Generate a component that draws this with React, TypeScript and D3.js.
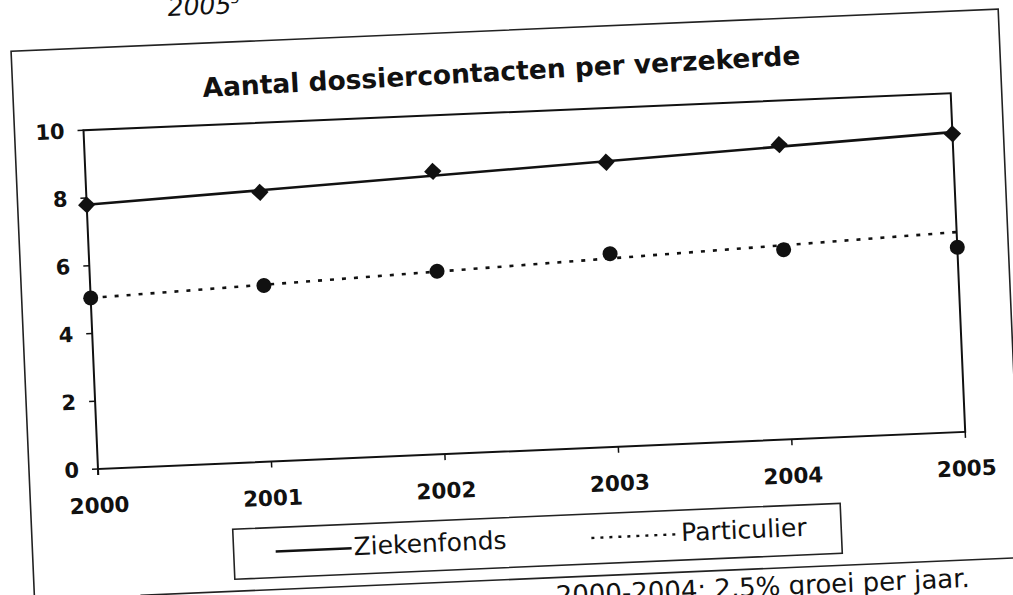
import React from "react";
import * as d3 from "d3";

const years = ["2000", "2001", "2002", "2003", "2004", "2005"];
const ziekenfonds = [7.8, 7.95, 8.35, 8.4, 8.7, 8.8];
const particulier = [5.05, 5.2, 5.4, 5.7, 5.6, 5.45];
// straight reference lines: value at first and last year
const ziekenfondsLine = [7.8, 8.85];
const particulierLine = [5.05, 5.9];
const yTicks = [0, 2, 4, 6, 8, 10];
const seriesNames = ["Ziekenfonds", "Particulier"];
const chartTitle = "Aantal dossiercontacten per verzekerde";
const headerFragment = "2005";
const footnote = "2000-2004: 2,5% groei per jaar.";

const FONT = "'DejaVu Sans', Verdana, sans-serif";

export default function App() {
  const W = 868;
  const H = 339;
  const x = d3.scalePoint<string>().domain(years).range([0, W]);
  const y = d3.scaleLinear().domain([0, 10]).range([0, -H]);
  const line = d3
    .line<[string, number]>()
    .x((d) => x(d[0]) as number)
    .y((d) => y(d[1]));
  const first = years[0];
  const last = years[years.length - 1];
  const zfPath = line([
    [first, ziekenfondsLine[0]],
    [last, ziekenfondsLine[1]],
  ]) as string;
  const ptPath = line([
    [first, particulierLine[0]],
    [last, particulierLine[1]],
  ]) as string;
  const square = d3.symbol().type(d3.symbolSquare).size(150)() as string;

  return (
    <svg
      width={1013}
      height={595}
      style={{ position: "absolute", left: 0, top: 0, background: "#fff" }}
      fontFamily={FONT}
    >
      <rect x={0} y={0} width={1013} height={595} fill="#fff" />
      {/* fragment of heading above the chart (cut by the page top) */}
      <text
        transform="translate(168,16) rotate(-2.5)"
        fontSize={25}
        fontStyle="italic"
        fill="#111"
      >
        {headerFragment}
        <tspan dy={-10} fontSize={14}>3</tspan>
      </text>

      {/* title */}
      <text
        transform="translate(203,97) rotate(-3.1)"
        fontSize={26.5}
        fontWeight="bold"
        fill="#111"
      >
        {chartTitle}
      </text>

      <g transform="translate(98,469) rotate(-2.45)">
        {/* outer chart box */}
        <rect
          x={-69}
          y={-421}
          width={988}
          height={700}
          fill="none"
          stroke="#222"
          strokeWidth={1.6}
        />
        {/* line below the legend */}
        <line x1={37} x2={1000} y1={128} y2={128} stroke="#222" strokeWidth={1.6} />

        {/* plot frame */}
        <rect x={0} y={-H} width={W} height={H} fill="none" stroke="#111" strokeWidth={2} />

        {/* y ticks & labels */}
        {yTicks.map((t) => (
          <g key={t}>
            <line x1={-6} x2={0} y1={y(t)} y2={y(t)} stroke="#111" strokeWidth={1.5} />
            <text
              x={-19}
              y={y(t)}
              dy="0.36em"
              textAnchor="end"
              fontSize={21}
              fontWeight="bold"
              fill="#111"
            >
              {t}
            </text>
          </g>
        ))}
        <line x1={0} x2={0} y1={0} y2={6} stroke="#111" strokeWidth={2} />

        {/* x ticks & labels */}
        {years.map((yr) => (
          <g key={yr}>
            <line
              x1={x(yr) as number}
              x2={x(yr) as number}
              y1={0}
              y2={6}
              stroke="#111"
              strokeWidth={1.5}
            />
            <text
              x={x(yr) as number}
              y={44}
              textAnchor="middle"
              fontSize={21.5}
              fontWeight="bold"
              fill="#111"
            >
              {yr}
            </text>
          </g>
        ))}

        {/* lines */}
        <path d={zfPath} fill="none" stroke="#111" strokeWidth={2.6} />
        <path
          d={ptPath}
          fill="none"
          stroke="#111"
          strokeWidth={2.6}
          strokeDasharray="4 8"
        />

        {/* markers */}
        {ziekenfonds.map((v, i) => (
          <path
            key={"z" + i}
            d={square}
            transform={`translate(${x(years[i])},${y(v)}) rotate(45)`}
            fill="#111"
          />
        ))}
        {particulier.map((v, i) => (
          <circle key={"p" + i} cx={x(years[i]) as number} cy={y(v)} r={7.5} fill="#111" />
        ))}

        {/* legend */}
        <rect x={132} y={66} width={608} height={50} fill="#fff" stroke="#222" strokeWidth={1.6} />
        <line x1={174} x2={250} y1={90} y2={90} stroke="#111" strokeWidth={2.4} />
        <text x={252} y={97} fontSize={25} fill="#111">
          {seriesNames[0]}
        </text>
        <line
          x1={490}
          x2={574}
          y1={90}
          y2={90}
          stroke="#111"
          strokeWidth={2.4}
          strokeDasharray="3 6"
        />
        <text x={580} y={97} fontSize={25} fill="#111">
          {seriesNames[1]}
        </text>

        {/* footnote (cut off by the page edge) */}
        <text x={452} y={155} fontSize={26} fill="#111">
          {footnote}
        </text>
      </g>
    </svg>
  );
}
